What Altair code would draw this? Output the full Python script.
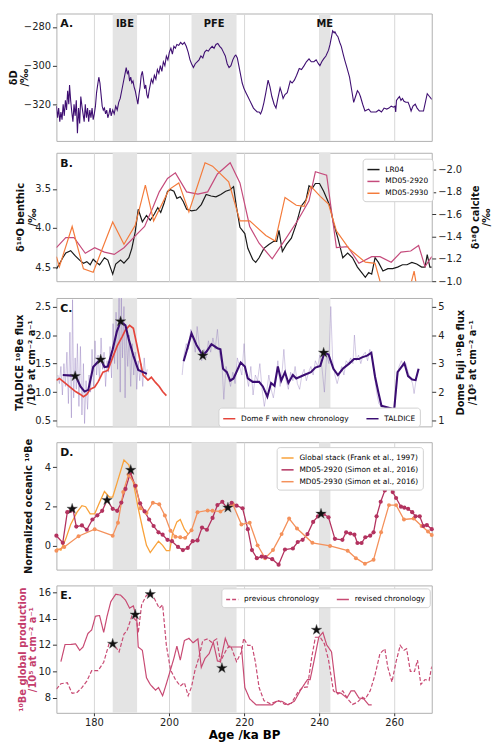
import altair as alt
import pandas as pd

FONT = "DejaVu Sans"
W = 380
HA, HB, HC, HD, HE = 129, 130, 130, 129, 129

region_names = ["IBE", "PFE", "ME"]
region_start = [185.0, 206.0, 240.0]
region_end = [191.5, 218.0, 243.0]
x_ticks = [180, 200, 220, 240, 260]
panel_letters = ["A.", "B.", "C.", "D.", "E."]
STAR = ("M0,-1L0.223,-0.307L0.951,-0.309L0.361,0.117L0.588,0.809L0,0.38L-0.588,0.809"
        "L-0.361,0.117L-0.951,-0.309L-0.223,-0.307Z")

a_dD = [(170.0,-321),(170.3,-327),(170.6,-322),(170.9,-329),(171.2,-324),(171.5,-328),(171.8,-320),(172.1,-326),
        (172.4,-318),(172.7,-323),(173.0,-313),(173.3,-320),(173.5,-310),(173.8,-318),(174.1,-324),(174.4,-329),
        (174.7,-320),(175.0,-326),(175.3,-318),(175.6,-335),(175.9,-322),(176.2,-330),(176.5,-316),(176.8,-321),
        (177.1,-325),(177.4,-329),(177.7,-320),(178.0,-327),(178.3,-322),(178.6,-329),(178.9,-323),(179.2,-327),
        (179.5,-322),(179.8,-328),(180.1,-325),(180.4,-321),(180.7,-314),(181.0,-310),(181.3,-306),(181.6,-309),
        (181.9,-315),(182.2,-321),(182.5,-323),(182.8,-322),(183.1,-325),(183.4,-323),(183.7,-327),(184.0,-325),
        (184.3,-322),(184.6,-326),(185.0,-323),(185.4,-325),(185.8,-321),(186.2,-323),(186.6,-319),(187.0,-317),
        (187.4,-313),(187.8,-309),(188.2,-305),(188.6,-301),(188.9,-304),(189.2,-303),(189.5,-308),(189.8,-306),
        (190.1,-309),(190.4,-308),(190.7,-311),(191.0,-313),(191.4,-317),(191.7,-320),(192.0,-315),(192.3,-311),
        (192.6,-305),(192.9,-303),(193.2,-307),(193.5,-312),(193.8,-310),(194.1,-315),(194.4,-317),(194.7,-313),
        (195.0,-310),(195.3,-307),(195.7,-309),(196.1,-305),(196.5,-307),(196.9,-302),(197.3,-304),(197.7,-300),
        (198.1,-303),(198.5,-298),(198.9,-300),(199.3,-295),(199.7,-297),(200.1,-293),(200.5,-291),(200.9,-294),
        (201.3,-290),(201.7,-291),(202.1,-289),(202.6,-289.5),(203.1,-288),(203.6,-289),(204.1,-288),(204.6,-290),
        (205.1,-293),(205.6,-297),(206.0,-299),(206.5,-301),(207.0,-299),(207.5,-298),(208.0,-297),(208.5,-295),
        (209.0,-296),(209.5,-293),(210.0,-292),(210.5,-292.5),(211.0,-291),(211.5,-290),(212.0,-291),(212.5,-289),
        (213.0,-288.5),(213.5,-290),(214.0,-291),(214.5,-293),(215.0,-295),(215.5,-299),(216.0,-301),(216.5,-300),
        (217.0,-297),(217.5,-295),(217.8,-294.5),(218.2,-296),(218.6,-300),(219.0,-304),(219.5,-309),(220.0,-312),
        (220.5,-314),(221.0,-316),(221.5,-318),(222.0,-320),(222.5,-322),(223.0,-323),(223.5,-324),(224.0,-324),
        (224.4,-325),(224.8,-323),(225.3,-319),(225.8,-314),(226.4,-307.5),(226.9,-311),(227.4,-316),(228.0,-320),
        (228.5,-322),(229.0,-317),(229.6,-311.5),(230.0,-314),(230.4,-317),(230.9,-315),(231.5,-314),(231.9,-311),
        (232.3,-308),(232.8,-309),(233.4,-307.5),(234.0,-305),(234.7,-301.5),(235.3,-302),(236.0,-300),(236.6,-298),
        (237.3,-296.5),(237.9,-298),(238.6,-298),(239.2,-297),(239.8,-299),(240.2,-300),(240.7,-298),(241.2,-296.5),
        (241.8,-295),(242.5,-292),(242.9,-289),(243.3,-285),(243.6,-282),(244.0,-283),(244.2,-282.5),(244.6,-284),
        (245.0,-285),(245.5,-288),(245.9,-290),(246.4,-294),(246.8,-297),(247.4,-301),(248.1,-306),(248.7,-313),
        (249.2,-319),(249.7,-316),(250.2,-313),(250.6,-314),(251.0,-316),(251.6,-320),(252.2,-323.5),(252.7,-323),
        (253.2,-322.5),(253.8,-324),(254.5,-324),(255.2,-324),(255.9,-323),(256.6,-324),(257.3,-322),(258.0,-322.5),
        (258.6,-322),(259.2,-321),(259.8,-321.5),(260.2,-321),(260.4,-324),(260.6,-318),(261.0,-317),(261.4,-316),
        (261.8,-318),(262.2,-317),(262.6,-318.5),(263.1,-319),(263.7,-319),(264.1,-321),(264.5,-323.5),(265.0,-321),
        (265.6,-320),(266.1,-322),(266.7,-323.5),(267.3,-323.5),(267.8,-323.5),(268.3,-319),(268.8,-314.5),
        (269.4,-316),(270.0,-317.5)]

b_lr04 = [(170.0,4.525),(170.8,4.46),(171.7,4.38),(172.5,4.32),(173.8,4.29),(175.1,4.36),(176.4,4.42),(177.2,4.45),
          (178.1,4.43),(179.0,4.47),(179.8,4.40),(180.7,4.44),(181.5,4.47),(182.8,4.38),(183.7,4.41),(185.0,4.59),
          (185.8,4.46),(187.1,4.41),(188.0,4.45),(189.3,4.38),(190.1,4.26),(191.0,4.05),(191.8,3.76),(192.9,3.92),
          (194.0,3.84),(195.0,3.90),(196.1,3.82),(197.0,3.74),(197.8,3.80),(198.7,3.68),(199.6,3.53),(200.4,3.51),
          (201.3,3.53),(202.1,3.62),(203.0,3.60),(203.8,3.66),(204.7,3.76),(206.0,3.78),(207.3,3.77),(208.6,3.70),
          (209.9,3.57),(211.2,3.59),(212.5,3.60),(213.8,3.57),(215.1,3.53),(216.3,3.51),(217.2,3.47),(218.0,3.74),
          (218.9,3.99),(220.2,4.07),(221.0,4.26),(222.3,4.40),(223.1,4.44),(224.0,4.38),(225.3,4.26),(226.6,4.21),
          (227.9,4.17),(228.7,4.17),(229.3,4.03),(230.2,4.30),(231.3,4.21),(232.6,4.13),(233.9,3.95),(235.2,3.72),
          (236.5,3.64),(237.3,3.46),(238.2,3.49),(239.0,3.43),(240.1,3.43),(241.2,3.53),(242.0,3.62),(242.9,3.72),
          (243.8,3.93),(245.0,4.13),(246.3,4.38),(247.6,4.32),(248.9,4.38),(250.2,4.50),(251.5,4.58),(252.3,4.63),
          (253.2,4.57),(254.0,4.59),(254.9,4.38),(255.8,4.44),(257.0,4.55),(258.3,4.52),(259.6,4.52),(260.9,4.50),
          (262.2,4.47),(263.4,4.47),(264.7,4.44),(266.0,4.46),(267.3,4.50),(268.2,4.50),(268.8,4.34),(269.5,4.50),
          (270.0,4.50)]
b_md2920 = [(170.0,-1.30),(172.5,-1.39),(174.7,-1.39),(177.7,-1.25),(180.2,-1.30),(182.8,-1.26),(185.4,-1.24),
            (188.0,-1.30),(191.4,-1.42),(193.5,-1.49),(195.7,-1.66),(197.4,-1.80),(199.6,-1.92),(201.7,-1.97),
            (204.7,-1.80),(207.7,-1.78),(210.3,-1.80),(212.9,-1.96),(216.3,-2.06),(218.9,-1.88),(221.5,-1.49),
            (224.0,-1.34),(227.5,-1.20),(230.9,-1.37),(234.4,-1.55),(237.3,-1.72),(239.0,-1.98),(242.0,-1.95),
            (244.6,-1.30),(247.6,-1.31),(250.6,-1.16),(254.0,-1.22),(256.2,-1.22),(259.2,-1.17),(261.8,-1.26),
            (264.4,-1.27),(266.5,-1.32),(268.2,-1.13),(270.0,-1.22)]
b_md2930 = [(170.0,-1.22),(170.8,-1.13),(174.2,-1.49),(177.2,-1.11),(179.8,-1.08),(185.0,-1.53),(188.0,-1.33),
            (191.0,-1.50),(193.7,-1.86),(195.9,-1.54),(200.0,-1.82),(202.6,-1.88),(205.3,-1.62),(209.6,-2.06),
            (211.6,-2.03),(215.9,-1.89),(218.9,-1.54),(221.5,-1.54),(225.8,-1.41),(228.3,-1.36),(230.9,-1.75),
            (233.9,-1.68),(236.0,-1.67),(237.8,-1.85),(240.3,-1.76),(242.5,-1.69),(244.6,-1.45),(248.0,-1.29),
            (252.3,-1.17),(254.9,-1.16),(256.2,-1.00),(258.5,-0.80),(263.5,-0.85),(265.3,-1.09),(266.5,-0.85),
            (270.0,-0.85)]

c_raw_left = [(170.4,1.30),(170.8,1.15),(171.2,1.45),(171.6,0.95),(172.0,1.50),(172.4,1.10),(172.8,1.70),(173.2,0.80),
              (173.6,2.05),(174.0,0.55),(174.3,2.62),(174.6,0.90),(175.0,1.60),(175.3,1.05),(175.6,1.85),(176.0,0.75),
              (176.4,1.80),(176.8,0.60),(177.2,1.50),(177.5,0.45),(177.9,1.20),(178.3,0.70),(178.7,1.30),(179.1,1.00),
              (179.5,1.75),(179.9,1.10),(180.3,1.90),(180.7,1.30),(181.1,1.65),(181.5,1.20),(181.9,1.95),(182.3,1.40),
              (182.7,1.70),(183.1,1.10),(183.5,1.55),(183.9,1.35),(184.3,1.80),(184.7,1.25),(185.1,2.20),(185.5,1.50),
              (185.9,2.40),(186.3,1.40),(186.7,2.65),(187.0,1.00),(187.3,2.65),(187.6,1.60),(188.0,2.50),(188.3,0.90),
              (188.6,2.10),(189.0,1.45),(189.4,2.00),(189.8,1.10),(190.2,1.85),(190.6,1.30),(191.0,1.70),(191.4,1.05),
              (191.8,1.55),(192.2,1.20),(192.6,1.50),(193.0,1.10),(193.4,1.60),(193.8,1.25),(194.2,1.40)]
c_taldice_left = [(171.7,1.30),(174.2,1.29),(175.3,1.26),(176.4,1.10),(177.5,1.01),(178.5,1.04),(179.8,1.44),
                  (180.9,1.52),(181.8,1.58),(182.8,1.44),(183.7,1.45),(185.0,1.75),(186.1,2.06),(187.1,2.24),
                  (188.4,2.17),(189.3,1.92),(190.5,1.64),(191.8,1.39),(193.1,1.35),(194.1,1.32)]
c_domef = [(170.0,1.21),(170.8,1.24),(172.1,1.17),(173.4,1.10),(175.1,1.01),(176.4,0.96),(177.2,0.92),(178.1,0.96),
           (179.0,1.05),(180.2,1.09),(181.1,1.18),(182.4,1.35),(183.7,1.38),(185.0,1.61),(186.2,1.81),(187.5,1.97),
           (188.4,2.09),(189.5,2.17),(190.5,2.12),(191.4,1.84),(192.3,1.55),(193.1,1.30),(194.4,1.21),(195.3,1.26),
           (196.4,1.17),(197.4,1.10),(198.3,1.01),(199.3,0.94)]
c_fuji = [(203.9,3.08),(204.7,3.44),(206.0,4.06),(207.3,3.66),(209.0,3.28),(210.1,3.44),(211.3,3.68),(212.9,3.54),
          (213.7,3.50),(214.4,2.82),(215.4,2.70),(216.3,2.40),(217.2,2.48),(219.1,3.04),(220.2,2.90),(221.0,2.48),
          (222.3,2.36),(224.0,2.36),(225.0,2.20),(226.2,1.84),(227.2,2.32),(228.1,2.22),(229.0,2.90),(229.9,2.40),
          (230.9,2.70),(231.8,2.32),(233.0,2.60),(233.9,2.48),(236.0,2.60),(237.8,2.70),(239.0,2.86),(240.3,2.92),
          (241.4,3.38),(242.5,3.32),(243.8,2.82),(245.0,2.60),(246.3,2.82),(248.0,3.00),(249.3,3.16),(250.6,3.16),
          (251.4,3.22),(252.8,3.28),(253.9,3.38),(254.9,2.54),(255.8,1.98),(256.6,1.52),(258.3,1.46),(260.0,1.40),
          (260.9,2.70),(261.8,2.86),(262.7,3.02),(263.7,2.56),(264.8,2.44),(265.7,2.42),(266.5,2.82)]
c_raw_fuji = [(203.5,2.6),(204.0,3.3),(204.6,3.7),(205.2,3.5),(205.8,4.2),(206.4,3.9),(207.0,3.4),(207.5,4.3),
              (208.1,3.6),(208.7,3.1),(209.3,3.5),(209.9,3.2),(210.5,3.8),(211.1,3.4),(211.7,3.9),(212.3,3.5),
              (212.9,4.2),(213.5,3.3),(214.1,3.0),(214.6,1.75),(215.2,2.9),(215.8,2.5),(216.4,2.2),(217.0,2.7),
              (217.6,2.3),(218.2,3.2),(218.8,2.9),(219.4,2.6),(220.0,3.7),(220.6,2.6),(221.2,2.2),(221.8,2.9),
              (222.4,1.9),(223.0,2.6),(223.6,2.4),(224.2,3.0),(224.8,2.1),(225.4,1.5),(226.0,2.0),(226.6,2.6),
              (227.2,2.1),(227.8,1.8),(228.4,2.3),(229.0,3.1),(229.6,2.2),(230.2,2.8),(230.6,3.5),(231.2,2.4),
              (231.8,2.1),(232.4,2.7),(233.0,2.4),(233.6,2.9),(234.2,2.3),(234.8,2.1),(235.4,2.6),(236.0,2.8),
              (236.6,2.4),(237.2,2.7),(237.8,2.9),(238.4,2.6),(239.0,3.1),(239.6,2.9),(240.2,3.3),(240.8,2.8),
              (241.4,2.0),(242.0,3.3),(242.6,3.0),(243.1,5.0),(243.6,3.1),(244.2,2.6),(244.8,2.3),(245.4,2.6),
              (246.0,2.9),(246.6,2.6),(247.2,3.1),(247.8,3.0),(248.4,3.2),(249.0,3.0),(249.4,4.0),(249.9,3.1),
              (250.5,3.3),(251.1,3.0),(251.7,3.3),(252.3,3.4),(252.9,3.1),(253.5,3.5),(254.1,3.2),(254.7,2.6),
              (255.3,2.0),(255.9,1.6),(256.5,1.5),(257.1,1.4),(257.7,1.5),(258.3,1.4),(258.9,1.45),(259.5,1.35),
              (260.1,1.5),(260.7,2.4),(261.3,2.9),(261.9,3.1),(262.5,2.9),(263.1,3.0),(263.7,2.7),(264.3,2.5),
              (264.9,2.3),(265.3,1.95),(265.9,2.5),(266.5,2.8)]
c_stars_left = [(175.0,1.28),(181.8,1.57),(187.1,2.24)]
c_stars_fuji = [(209.0,3.28),(241.2,3.38)]

d_global = [(170.0,-0.13),(171.2,-0.21),(172.5,0.36),(173.8,1.09),(175.5,1.71),(176.8,2.04),(177.8,1.99),(179.0,1.63),
            (180.2,1.63),(181.4,2.16),(182.8,2.76),(184.1,2.48),(185.0,2.48),(186.2,3.22),(188.0,4.36),(189.3,4.11),
            (190.5,3.22),(191.8,1.91),(193.1,0.77),(194.0,0.03),(195.0,-0.34),(196.1,-0.05),(197.2,0.24),(198.3,0.03),
            (199.3,-0.24),(200.2,-0.24),(201.0,0.69),(202.1,1.22),(203.0,1.34),(204.1,0.85),(205.1,0.60)]
d_md2920 = [(170.0,0.52),(171.7,0.16),(172.9,1.71),(173.8,1.78),(174.4,1.88),(175.3,0.98),(176.8,1.04),(178.1,0.82),
            (179.6,1.34),(180.9,1.55),(182.2,1.78),(183.5,2.32),(185.0,1.88),(186.2,1.78),(187.3,2.20),(188.4,2.89),
            (189.7,3.71),(191.0,3.05),(192.3,2.16),(193.5,1.75),(194.7,1.34),(195.9,1.01),(197.2,0.69),(198.3,0.57),
            (199.6,0.31),(200.8,0.24),(202.4,-0.05),(203.7,-0.21),(205.0,-0.10),(206.3,0.24),(207.6,0.28),(208.8,0.93),
            (210.1,0.82),(211.6,1.42),(212.9,2.07),(214.2,2.24),(215.4,1.94),(216.7,2.19),(218.0,2.04),(219.6,1.91),
            (221.0,0.85),(222.1,-0.21),(223.4,-0.62),(224.7,-0.54),(225.7,-0.57),(227.5,-0.67),(229.2,-0.95),
            (230.9,-0.18),(233.0,-0.13),(234.3,0.20),(235.6,0.31),(236.9,0.60),(238.4,1.22),(239.7,1.50),(241.2,1.62),
            (242.5,1.45),(244.2,0.36),(246.2,0.31),(247.2,0.69),(248.3,0.63),(249.4,0.57),(250.2,0.15),(251.3,0.15),
            (252.3,0.44),(253.6,0.52),(254.5,0.69),(255.3,1.50),(256.4,2.24),(257.5,2.81),(258.6,3.05),(259.6,2.73),
            (260.5,2.43),(261.8,1.99),(262.7,1.94),(263.7,1.88),(264.8,1.71),(265.7,1.50),(266.8,1.50),(267.8,1.01),
            (268.7,1.06),(270.0,0.85)]
d_md2930 = [(170.0,-0.24),(172.1,-0.05),(175.9,0.49),(180.2,0.85),(185.0,0.52),(186.4,1.18),(187.8,2.73),(189.2,3.62),
            (191.2,3.05),(192.4,1.91),(194.0,1.67),(195.7,2.19),(197.4,2.11),(198.9,1.54),(200.4,0.77),(201.7,0.47),
            (203.0,0.44),(204.3,0.41),(206.0,0.80),(207.6,1.71),(210.3,1.80),(211.6,1.78),(213.7,1.75),(215.4,1.91),
            (217.0,2.11),(219.3,1.09),(221.5,1.18),(223.6,0.03),(225.6,-0.62),(227.7,-0.21),(230.0,0.60),(232.0,1.39),
            (234.1,0.88),(238.2,0.16),(242.9,0.00),(247.6,-0.24),(249.8,-0.62),(252.2,-0.90),(254.5,-0.70),
            (256.5,0.69),(258.6,2.07),(260.5,2.07),(262.6,1.34),(265.2,1.39),(267.3,1.01),(269.0,0.73),(270.0,0.55)]
d_stars = [(174.2,1.88),(183.5,2.32),(189.8,3.85),(215.7,1.94),(240.5,1.63)]

e_revised = [(171.2,10.73),(172.3,12.03),(173.8,12.03),(175.1,12.08),(176.2,11.59),(177.1,11.84),(178.4,12.87),
             (179.4,13.14),(180.4,14.18),(181.5,14.23),(182.6,12.95),(183.5,14.18),(184.5,15.29),(185.8,15.85),
             (187.1,15.78),(188.4,15.41),(189.5,14.79),(190.5,14.97),(191.4,13.98),(191.8,11.84),(192.9,11.59),
             (194.0,9.50),(195.0,9.00),(196.4,8.56),(197.2,8.76),(198.3,8.14),(199.3,9.05),(200.4,10.11),(201.3,10.98),
             (202.1,11.91),(203.0,10.85),(204.1,12.33),(205.3,12.50),(206.4,12.16),(207.7,12.46),(208.6,10.29),
             (209.6,10.98),(210.7,11.34),(211.8,12.21),(212.9,10.78),(213.7,10.73),(215.0,12.50),(215.9,11.84),
             (217.2,11.84),(219.3,11.84),(220.2,8.76),(221.5,7.90),(223.2,7.45),(225.7,7.45),(227.5,7.45),(228.7,7.72),
             (230.0,7.72),(231.7,7.45),(233.4,7.72),(235.2,8.64),(236.9,9.37),(237.6,9.37),(238.6,10.73),(239.9,12.58),
             (241.0,12.95),(242.0,12.01),(243.3,11.47),(244.6,8.39),(245.9,8.32),(247.4,7.97),(248.5,8.51),(249.4,8.51),
             (250.6,7.97),(251.9,7.90),(253.2,7.45),(254.0,7.45)]
e_previous = [(170.0,8.64),(171.2,9.05),(172.9,9.13),(174.2,8.32),(175.5,8.39),(176.8,8.76),(178.1,9.25),(179.4,10.04),
              (181.1,10.04),(182.6,10.68),(184.1,12.16),(185.4,12.01),(186.7,11.47),(188.0,12.82),(188.8,13.07),
              (190.1,14.18),(191.4,13.81),(191.8,12.90),(192.7,15.04),(194.0,15.78),(195.3,15.85),(196.1,15.53),
              (197.4,14.79),(198.3,15.04),(199.3,11.96),(200.4,10.11),(201.7,9.37),(203.0,8.88),(204.1,9.13),
              (205.1,8.14),(206.0,8.81),(206.9,10.04),(207.9,10.98),(209.0,12.33),(210.3,12.46),(211.3,12.21),
              (212.7,12.46),(213.7,10.73),(215.4,11.71),(216.4,11.96),(218.0,10.73),(219.3,11.47),(219.9,12.50),
              (221.0,11.96),(222.1,11.96),(223.0,10.73),(224.0,8.76),(225.3,7.77),(227.0,7.53),(229.2,7.77),
              (230.9,7.48),(232.6,7.57),(234.3,8.39),(235.6,8.76),(236.9,8.81),(238.0,11.03),(239.0,12.58),
              (240.3,12.58),(241.4,12.08),(242.5,10.85),(243.8,8.51),(245.0,8.27),(246.3,8.51),(247.6,7.90),
              (248.9,7.48),(250.2,7.65),(251.5,8.02),(252.3,7.90),(253.6,8.51),(254.9,9.74),(256.2,11.34),
              (257.5,11.71),(258.3,10.29),(259.4,9.18),(260.5,10.73),(261.6,11.96),(262.6,11.59),(263.3,11.71),
              (264.3,9.99),(265.4,9.99),(266.2,10.85),(267.1,9.00),(268.2,9.37),(269.3,9.30),(270.0,10.36)]
e_stars = [(185.0,12.08),(191.0,14.30),(195.0,15.85),(214.1,10.24),(239.3,13.14)]


def frame(pairs, **extra):
    df = pd.DataFrame(pairs, columns=["age", "v"])
    for k, val in extra.items():
        df[k] = val
    return df


regions = pd.DataFrame({"name": region_names, "start": region_start, "end": region_end})


def xscale():
    return alt.Scale(domain=[170, 270], nice=False, zero=False)


def xaxis(bottom):
    if bottom:
        return alt.Axis(values=x_ticks, grid=True, gridColor="#d6d6d6", domain=False, tickSize=3,
                        labelPadding=2, labelFontSize=10, title="Age /ka BP", titleFontSize=12, titlePadding=2)
    return alt.Axis(values=x_ticks, grid=True, gridColor="#d6d6d6", domain=False, ticks=False,
                    labels=False, title="")


def X(field="age", bottom=False):
    return alt.X(f"{field}:Q", scale=xscale(), axis=xaxis(bottom))


def yaxis(title, values, fmt, orient="left", pad=0, lh=12, color="#111111"):
    kw = dict(title=title, values=values, format=fmt, orient=orient, grid=False, domain=False,
              tickSize=4, labelPadding=2, titlePadding=pad, titleLineHeight=lh, titleColor=color)
    if orient == "right":
        kw["titleAngle"] = 270
        kw["titleBaseline"] = "top"
    return alt.Axis(**kw)


def shade(bottom=False):
    return alt.Chart(regions).mark_rect(color="#e4e4e4").encode(x=X("start", bottom), x2="end:Q")


def letter(i):
    return alt.Chart(pd.DataFrame({"t": [panel_letters[i]]})).mark_text(
        align="left", baseline="middle", fontWeight="bold", fontSize=11, color="#111"
    ).encode(x=alt.value(4), y=alt.value(11), text="t:N")


def stars(df, y, bottom=False):
    return alt.Chart(df).mark_point(shape=STAR, filled=True, color="#111111", size=125, opacity=1,
                                    stroke="#555555", strokeWidth=0.4).encode(x=X(bottom=bottom), y=y)


def legend(x, y, horizontal=False, stroke_color=None):
    kw = dict(orient="none", legendX=x, legendY=y, title=None, symbolType="stroke", labelFontSize=7.5,
              symbolStrokeWidth=1.5, symbolSize=150, padding=4, rowPadding=1, labelOffset=5,
              fillColor="#ffffff", strokeColor="#d0d0d0", cornerRadius=3)
    if horizontal:
        kw["direction"] = "horizontal"
        kw["columnPadding"] = 13
    if stroke_color:
        kw["symbolStrokeColor"] = stroke_color
    return alt.Legend(**kw)


# ---- A ----
yA = alt.Y("v:Q", scale=alt.Scale(domain=[-339, -273], nice=False, zero=False),
           axis=yaxis(["δD", "/‰"], [-320, -300, -280], "d", pad=-6, lh=11))
a_line = alt.Chart(frame(a_dD)).mark_line(color="#3f0f72", strokeWidth=1.1, clip=True).encode(x=X(), y=yA)
a_text = alt.Chart(regions).transform_calculate(mid="(datum.start + datum.end) / 2").mark_text(
    fontWeight="bold", fontSize=10, color="#111", baseline="middle"
).encode(x=X("mid"), y=alt.value(11), text="name:N")
panelA = alt.layer(shade(), a_line, a_text, letter(0)).properties(width=W, height=HA)

# ---- B ----
b_names = ["LR04", "MD05-2920", "MD05-2930"]
b_all = pd.concat([frame(b_lr04, series=b_names[0]), frame(b_md2920, series=b_names[1]),
                   frame(b_md2930, series=b_names[2])])
colorB = alt.Color("series:N", scale=alt.Scale(domain=b_names, range=["#1a1a1a", "#c54b7c", "#f47b3b"]),
                   legend=legend(W - 70, 6))
yBL = alt.Y("v:Q", scale=alt.Scale(domain=[3.037, 4.68], reverse=True, nice=False, zero=False),
            axis=yaxis(["δ¹⁸O benthic", "/‰"], [3.5, 4.0, 4.5], ".1f", pad=-3))
yBR = alt.Y("v:Q", scale=alt.Scale(domain=[-2.15, -1.0], reverse=True, nice=False, zero=False),
            axis=yaxis(["δ¹⁸O calcite", "/‰"], [-2.0, -1.8, -1.6, -1.4, -1.2, -1.0], ".1f", orient="right",
                       pad=-2, lh=11))
b_left = alt.Chart(b_all).transform_filter("datum.series == 'LR04'").mark_line(strokeWidth=1.2, clip=True).encode(
    x=X(), y=yBL, color=colorB)
b_right = alt.Chart(b_all).transform_filter("datum.series != 'LR04'").mark_line(strokeWidth=1.2, clip=True).encode(
    x=X(), y=yBR, color=colorB)
panelB = alt.layer(shade(), b_left, b_right, letter(1)).resolve_scale(y="independent").properties(width=W, height=HB)

# ---- C ----
c_names = ["Dome F with new chronology", "TALDICE"]
colorC = alt.Color("series:N", scale=alt.Scale(domain=c_names, range=["#e5453b", "#3b0d73"]),
                   legend=legend(W - 216, HC - 19, horizontal=True))
yCL = alt.Y("v:Q", scale=alt.Scale(domain=[0.40, 2.65], nice=False, zero=False),
            axis=yaxis(["TALDICE ¹⁰Be flux", "/10⁵ at cm⁻² a⁻¹"], [0.5, 1.0, 1.5, 2.0, 2.5], ".1f", pad=-2))
yCR = alt.Y("v:Q", scale=alt.Scale(domain=[0.80, 5.30], nice=False, zero=False),
            axis=yaxis(["Dome Fuji ¹⁰Be flux", "/10⁵ at cm⁻² a⁻¹"], [1, 2, 3, 4, 5], "d", orient="right", pad=0))
c_left = alt.layer(
    alt.Chart(frame(c_raw_left)).mark_line(color="#8f78bb", opacity=0.55, strokeWidth=0.8, clip=True).encode(
        x=X(), y=yCL),
    alt.Chart(frame(c_domef, series=c_names[0])).mark_line(strokeWidth=1.7, clip=True).encode(
        x=X(), y=yCL, color=colorC),
    alt.Chart(frame(c_taldice_left, series=c_names[1])).mark_line(strokeWidth=2.1, clip=True).encode(
        x=X(), y=yCL, color=colorC),
    stars(frame(c_stars_left), yCL),
)
c_right = alt.layer(
    alt.Chart(frame(c_raw_fuji)).mark_line(color="#8f78bb", opacity=0.5, strokeWidth=0.8, clip=True).encode(
        x=X(), y=yCR),
    alt.Chart(frame(c_fuji, series=c_names[1])).mark_line(strokeWidth=2.1, clip=True).encode(
        x=X(), y=yCR, color=colorC),
    stars(frame(c_stars_fuji), yCR),
)
panelC = alt.layer(shade(), c_left, c_right, letter(2)).resolve_scale(y="independent").properties(width=W, height=HC)

# ---- D ----
d_names = ["Global stack (Frank et al., 1997)", "MD05-2920 (Simon et al., 2016)", "MD05-2930 (Simon et al., 2016)"]
d_colors = ["#f9a23a", "#b3325f", "#f4915b"]
d_all = pd.concat([frame(d_global, series=d_names[0]), frame(d_md2920, series=d_names[1]),
                   frame(d_md2930, series=d_names[2])])
yD = alt.Y("v:Q", scale=alt.Scale(domain=[-1.2, 5.26], nice=False, zero=False),
           axis=yaxis("Normalized oceanic ¹⁰Be", [0, 2, 4], "d", pad=11))
colorD = alt.Color("series:N", scale=alt.Scale(domain=d_names, range=d_colors), legend=legend(W - 157, 5))
d_lines = alt.Chart(d_all).mark_line(strokeWidth=1.3, clip=True).encode(x=X(), y=yD, color=colorD)
d_pts20 = alt.Chart(frame(d_md2920)).mark_point(filled=True, size=18, opacity=1, color=d_colors[1]).encode(x=X(), y=yD)
d_pts30 = alt.Chart(frame(d_md2930)).mark_point(filled=True, size=16, opacity=1, color=d_colors[2]).encode(x=X(), y=yD)
panelD = alt.layer(shade(), d_lines, d_pts30, d_pts20, stars(frame(d_stars), yD), letter(3)).properties(
    width=W, height=HD)

# ---- E ----
e_names = ["previous chronology", "revised chronology"]
e_all = pd.concat([frame(e_previous, series=e_names[0]), frame(e_revised, series=e_names[1])])
yE = alt.Y("v:Q", scale=alt.Scale(domain=[6.84, 16.52], nice=False, zero=False),
           axis=yaxis(["¹⁰Be global production", "/10⁵ at cm⁻² a⁻¹"], [8, 10, 12, 14, 16], "d", pad=0,
                      lh=11, color="#c43c6c"))
e_lines = alt.Chart(e_all).mark_line(color="#c84a73", strokeWidth=1.2, clip=True).encode(
    x=X(bottom=True), y=yE,
    strokeDash=alt.StrokeDash("series:N", scale=alt.Scale(domain=e_names, range=[[4, 2], [1, 0]]),
                              legend=legend(W - 213, 3, horizontal=True, stroke_color="#c84a73")))
panelE = alt.layer(shade(True), e_lines, stars(frame(e_stars), yE, bottom=True), letter(4)).properties(
    width=W, height=HE)

chart = alt.vconcat(panelA, panelB, panelC, panelD, panelE, spacing=10).resolve_scale(
    color="independent", strokeDash="independent"
).properties(padding=0).configure_view(
    stroke="#b0b0b0", strokeWidth=1
).configure_axis(
    labelFont=FONT, titleFont=FONT, labelFontSize=10, titleFontSize=10, titleFontWeight="bold",
    labelColor="#222222", tickColor="#333333"
).configure_legend(labelFont=FONT).configure_text(font=FONT)

chart.save("out.html", embed_options={"renderer": "svg", "actions": False})
